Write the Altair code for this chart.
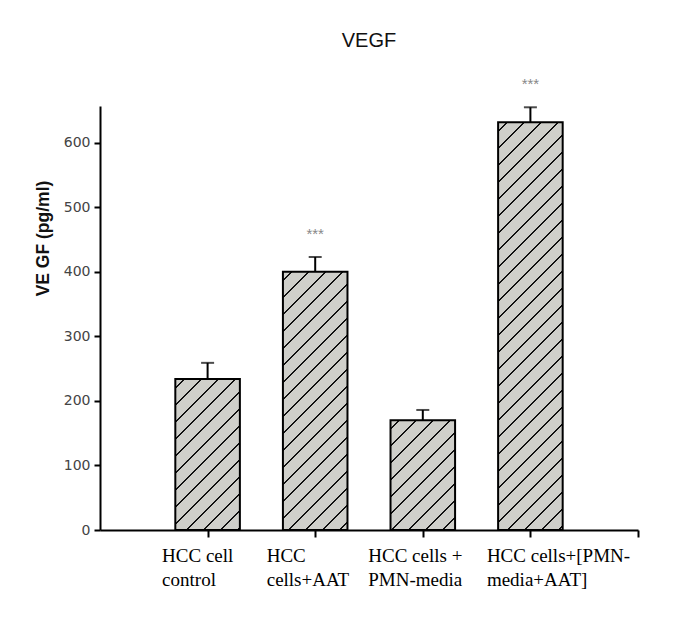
import json
import altair as alt
import pandas as pd

# ---- data ----
category_lines = [
    ["HCC cell", "control"],
    ["HCC", "cells+AAT"],
    ["HCC cells +", "PMN-media"],
    ["HCC cells+[PMN-", "media+AAT]"],
]
values = [234, 400, 170, 632]
errors = [25, 23, 16, 23]
significance = ["", "***", "", "***"]
y_ticks = [0, 100, 200, 300, 400, 500, 600]

# ---- layout / style constants ----
W, H = 538, 424
YMAX = 657
XMAX = 5
HALF = 0.3
label_offsets = [-46, -49, -55, -44]

idx = list(range(1, len(values) + 1))
df = pd.DataFrame({"idx": idx, "value": values, "err": errors, "sig": significance})


def hatch(v):
    """Diagonal '/' hatching as a hard-stop linear gradient in bbox units."""
    w = 2 * HALF * W / XMAX
    h = v * H / YMAX
    k = (1 / h + 1 / w) / (1 / h ** 2 + 1 / w ** 2)
    x2, y2 = k / h, k / w
    L = w + h
    P, d = 17.0, 2.0
    gray, ink = "#cfcfca", "#111111"
    stops = [{"offset": 0, "color": gray}]
    c = 9.0
    while c + d / 2 < L:
        a, b = (c - d / 2) / L, (c + d / 2) / L
        stops += [
            {"offset": a, "color": gray},
            {"offset": a, "color": ink},
            {"offset": b, "color": ink},
            {"offset": b, "color": gray},
        ]
        c += P
    stops.append({"offset": 1, "color": gray})
    return {"gradient": "linear", "x1": 0, "y1": 0, "x2": x2, "y2": y2, "stops": stops}


fill_def = {
    "condition": [
        {"test": f"datum.idx == {i}", "value": hatch(v)}
        for i, v in zip(idx[:-1], values[:-1])
    ],
    "value": hatch(values[-1]),
}

label_expr = " : ".join(
    f"datum.value == {i} ? {json.dumps(lines)}" for i, lines in zip(idx, category_lines)
) + " : ''"

offset_def = {
    "condition": [
        {"test": f"datum.value == {i}", "value": o} for i, o in zip(idx, label_offsets)
    ],
    "value": 0,
}

xscale = alt.Scale(domain=[0, XMAX], nice=False, zero=False)
yscale = alt.Scale(domain=[0, YMAX], nice=False)

xaxis = alt.Axis(
    values=idx + [XMAX], labelExpr=label_expr, title=None,
    labelAlign="left", labelBaseline="top", labelOffset=offset_def,
    labelPadding=9, labelFont="Liberation Serif", labelFontSize=19,
    labelColor="black", labelLineHeight=24.5, labelOverlap=False,
    labelFlush=False, labelBound=False,
    tickSize=7, tickWidth=2, tickColor="black",
    domainColor="black", domainWidth=2, grid=False,
)
yaxis = alt.Axis(
    values=y_ticks, title="VE GF (pg/ml)",
    titleFont="Liberation Sans", titleFontSize=17.5, titleFontWeight="bold",
    titleColor="#111", titleX=-57, titleY=132, titleBaseline="middle",
    labelFont="DejaVu Sans", labelFontSize=14, labelColor="#444", labelPadding=4,
    tickSize=6, tickWidth=2, tickColor="black",
    domainColor="black", domainWidth=2, grid=False,
)

base = alt.Chart(df).transform_calculate(
    x0=f"datum.idx - {HALF}", x1=f"datum.idx + {HALF}",
    upper="datum.value + datum.err", zero="0"
)

bars = base.mark_bar(stroke="black", strokeWidth=2).encode(
    x=alt.X("x0:Q", scale=xscale, axis=xaxis),
    x2="x1:Q",
    y=alt.Y("value:Q", scale=yscale, axis=yaxis),
    y2="zero:Q",
    fill=fill_def,
)

rules = base.mark_rule(color="black", strokeWidth=2).encode(
    x=alt.X("idx:Q", scale=xscale, axis=xaxis),
    y=alt.Y("value:Q", scale=yscale, axis=yaxis),
    y2="upper:Q",
)

caps = base.mark_tick(color="black", orient="horizontal", size=13, thickness=2).encode(
    x=alt.X("idx:Q", scale=xscale, axis=xaxis),
    y=alt.Y("upper:Q", scale=yscale, axis=yaxis),
)

stars = base.transform_filter("datum.sig != ''").mark_text(
    font="Liberation Sans", fontSize=15, color="#888", dy=-18, baseline="alphabetic"
).encode(
    x=alt.X("idx:Q", scale=xscale, axis=xaxis),
    y=alt.Y("upper:Q", scale=yscale, axis=yaxis),
    text="sig:N",
)

chart = alt.layer(bars, rules, caps, stars).properties(
    width=W, height=H,
    title=alt.TitleParams("VEGF", font="Liberation Sans", fontSize=20,
                          fontWeight="normal", color="#111", offset=26),
    autosize=alt.AutoSizeParams(type="none"),
    padding={"left": 92, "top": 98, "right": 25, "bottom": 80},
    background="white",
).configure_view(stroke=None)

chart.save("out.html", embed_options={"renderer": "svg", "actions": False})
